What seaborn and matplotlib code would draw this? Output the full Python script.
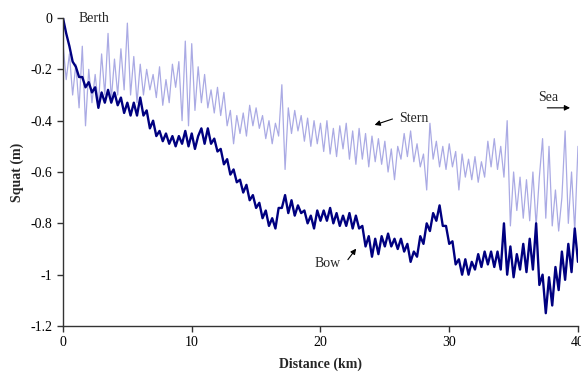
import numpy as np
import pandas as pd
import matplotlib
matplotlib.use("Agg")
import matplotlib.pyplot as plt
import seaborn as sns

# distance along the channel (km), one reading every 0.25 km
distance = np.linspace(0, 40, 161)

# squat at the bow (m)
bow = [
    0.00, -0.06, -0.11, -0.17, -0.19, -0.23, -0.23, -0.27,
    -0.25, -0.29, -0.27, -0.35, -0.29, -0.33, -0.28, -0.33,
    -0.29, -0.34, -0.31, -0.37, -0.33, -0.38, -0.33, -0.38,
    -0.31, -0.38, -0.36, -0.43, -0.40, -0.46, -0.44, -0.48,
    -0.45, -0.49, -0.46, -0.50, -0.46, -0.49, -0.44, -0.50,
    -0.45, -0.51, -0.46, -0.43, -0.49, -0.43, -0.49, -0.47,
    -0.52, -0.51, -0.57, -0.55, -0.61, -0.59, -0.64, -0.63,
    -0.68, -0.65, -0.71, -0.69, -0.74, -0.72, -0.78, -0.75,
    -0.81, -0.78, -0.82, -0.74, -0.74, -0.69, -0.76, -0.71,
    -0.77, -0.73, -0.76, -0.75, -0.80, -0.77, -0.82, -0.75,
    -0.79, -0.75, -0.79, -0.74, -0.80, -0.76, -0.81, -0.77,
    -0.81, -0.76, -0.82, -0.77, -0.82, -0.81, -0.89, -0.85,
    -0.93, -0.86, -0.92, -0.85, -0.89, -0.84, -0.89, -0.86,
    -0.90, -0.86, -0.91, -0.88, -0.95, -0.91, -0.93, -0.85,
    -0.88, -0.80, -0.83, -0.76, -0.79, -0.73, -0.81, -0.81,
    -0.88, -0.87, -0.96, -0.94, -1.00, -0.94, -1.00, -0.95,
    -0.98, -0.92, -0.97, -0.91, -0.96, -0.91, -0.97, -0.91,
    -0.98, -0.80, -1.00, -0.89, -1.01, -0.92, -0.98, -0.88,
    -0.99, -0.86, -0.98, -0.80, -1.04, -1.00, -1.15, -1.01,
    -1.12, -0.97, -1.06, -0.91, -1.02, -0.88, -0.99, -0.82,
    -0.95,
]

# squat at the stern (m)
stern = [
    -0.10, -0.24, -0.14, -0.30, -0.18, -0.35, -0.11, -0.42,
    -0.20, -0.33, -0.22, -0.34, -0.14, -0.30, -0.06, -0.32,
    -0.16, -0.30, -0.12, -0.28, -0.02, -0.30, -0.15, -0.33,
    -0.18, -0.30, -0.20, -0.28, -0.22, -0.31, -0.19, -0.34,
    -0.24, -0.33, -0.18, -0.27, -0.17, -0.40, -0.09, -0.42,
    -0.10, -0.36, -0.19, -0.33, -0.22, -0.35, -0.28, -0.37,
    -0.27, -0.38, -0.29, -0.42, -0.36, -0.49, -0.38, -0.45,
    -0.37, -0.46, -0.34, -0.42, -0.35, -0.43, -0.38, -0.47,
    -0.40, -0.49, -0.41, -0.46, -0.26, -0.59, -0.35, -0.45,
    -0.36, -0.44, -0.38, -0.48, -0.39, -0.50, -0.40, -0.49,
    -0.41, -0.52, -0.40, -0.53, -0.43, -0.54, -0.42, -0.51,
    -0.41, -0.55, -0.44, -0.57, -0.43, -0.55, -0.45, -0.58,
    -0.46, -0.56, -0.47, -0.57, -0.48, -0.60, -0.51, -0.63,
    -0.50, -0.55, -0.45, -0.54, -0.44, -0.56, -0.49, -0.58,
    -0.53, -0.67, -0.41, -0.55, -0.48, -0.58, -0.50, -0.59,
    -0.49, -0.58, -0.52, -0.67, -0.53, -0.62, -0.55, -0.63,
    -0.54, -0.64, -0.56, -0.62, -0.48, -0.58, -0.47, -0.59,
    -0.50, -0.62, -0.40, -0.81, -0.60, -0.75, -0.62, -0.78,
    -0.63, -0.79, -0.60, -0.81, -0.62, -0.47, -0.78, -0.50,
    -0.81, -0.67, -0.83, -0.70, -0.44, -0.80, -0.60, -0.83,
    -0.50,
]

x_ticks = [0, 10, 20, 30, 40]
y_ticks = [0, -0.2, -0.4, -0.6, -0.8, -1.0, -1.2]
y_tick_labels = ["0", "-0.2", "-0.4", "-0.6", "-0.8", "-1", "-1.2"]

df = pd.DataFrame({"Distance": distance, "Bow": bow, "Stern": stern})

sns.set_style("ticks")
plt.rcParams["font.family"] = ["Liberation Serif", "DejaVu Serif"]

fig = plt.figure(figsize=(5.81, 3.79), dpi=100)
ax = fig.add_axes([0.1084, 0.1398, 0.8864, 0.8127])

sns.lineplot(data=df, x="Distance", y="Stern", ax=ax, color="#aaaae4", linewidth=0.9)
sns.lineplot(data=df, x="Distance", y="Bow", ax=ax, color="#000080", linewidth=1.7)

ax.set_xlim(0, 40)
ax.set_ylim(-1.2, 0)
ax.set_xticks(x_ticks)
ax.set_xticklabels([str(t) for t in x_ticks])
ax.set_yticks(y_ticks)
ax.set_yticklabels(y_tick_labels)
ax.tick_params(labelsize=10, length=4, width=1, colors="#333333", labelcolor="black")
for side in ["left", "bottom"]:
    ax.spines[side].set_color("#333333")
    ax.spines[side].set_linewidth(1)
sns.despine(ax=ax)

ax.set_xlabel("Distance (km)", fontsize=10, fontweight="bold", labelpad=6)
ax.set_ylabel("Squat (m)", fontsize=10, fontweight="bold", labelpad=5)

# annotations
fs = 10
ax.text(1.2, 0.0, "Berth", fontsize=fs, va="center", ha="left")
ax.text(36.9, -0.31, "Sea", fontsize=fs, va="center", ha="left")
ax.annotate("", xy=(39.6, -0.35), xytext=(37.4, -0.35),
            arrowprops=dict(arrowstyle="-|>", color="black", lw=0.8, mutation_scale=8))
ax.text(26.1, -0.39, "Stern", fontsize=fs, va="center", ha="left")
ax.annotate("", xy=(24.0, -0.42), xytext=(25.8, -0.39),
            arrowprops=dict(arrowstyle="-|>", color="black", lw=0.8, mutation_scale=8))
ax.text(19.5, -0.955, "Bow", fontsize=fs, va="center", ha="left")
ax.annotate("", xy=(22.9, -0.89), xytext=(22.0, -0.95),
            arrowprops=dict(arrowstyle="-|>", color="black", lw=0.8, mutation_scale=8))

fig.savefig("out.png", dpi=100)
